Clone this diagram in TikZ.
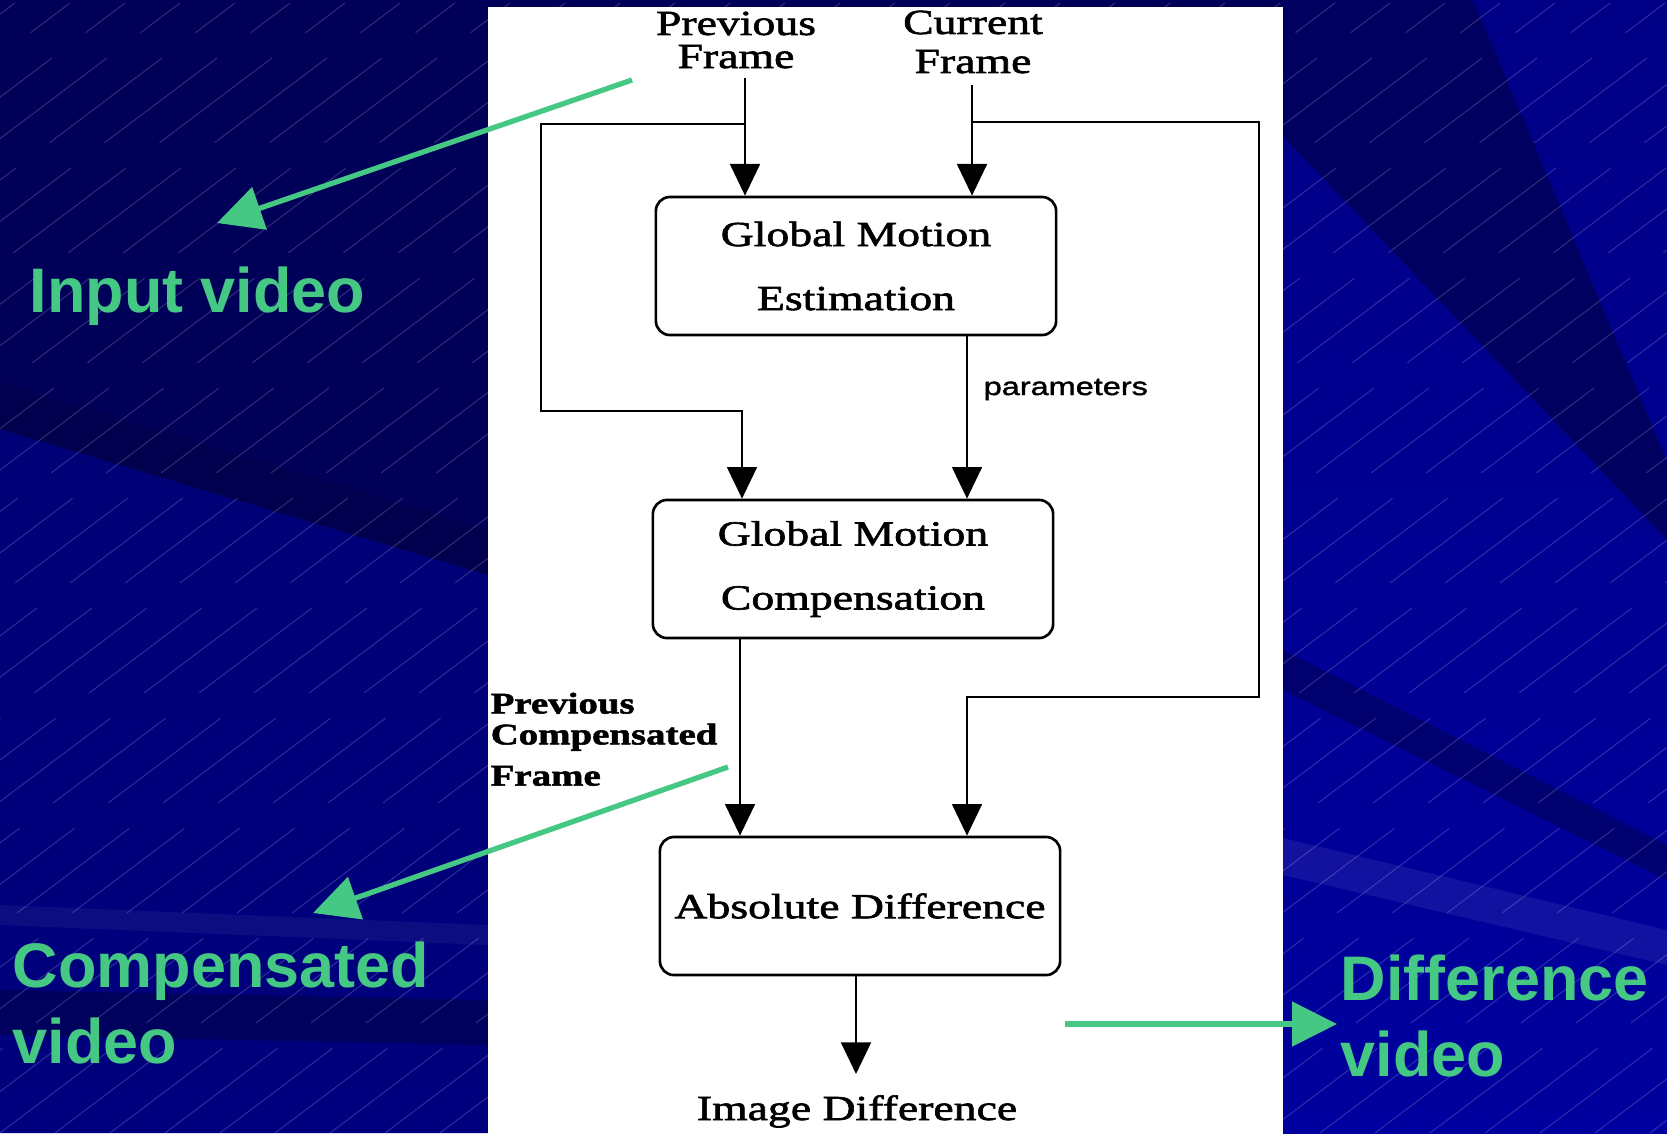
\documentclass[tikz,border=0pt]{standalone}
\usepackage{fontspec}
\setmainfont{Liberation Serif}
\newfontfamily\framefont[FakeStretch=1.3, FakeBold=1.8]{Liberation Serif}
\newfontfamily\paramfont[FakeStretch=1.3, FakeBold=1.5]{Liberation Sans}
\newfontfamily\notefont{Liberation Sans}
\usetikzlibrary{arrows.meta}
\definecolor{slidedark}{HTML}{000058}
\definecolor{slidemid}{HTML}{00007E}
\definecolor{slideblue}{HTML}{00009E}
\definecolor{notegreen}{HTML}{44C884}

\begin{document}
\begin{tikzpicture}[
    x=0.01cm, y=-0.01cm,
    block/.style={draw, rounded corners=4pt, line width=0.75pt, minimum width=4cm, minimum height=1.38cm, inner sep=0pt, align=center, font=\framefont\fontsize{10}{18.2}\selectfont},
    frame text/.style={inner sep=0pt, align=center, font=\framefont\fontsize{10}{9.4}\selectfont},
    side text/.style={inner sep=0pt, align=left, font=\framefont\bfseries\fontsize{8.5}{9.7}\selectfont},
    param text/.style={inner sep=0pt, font=\paramfont\fontsize{7.1}{8}\selectfont},
    flow/.style={line width=0.6pt, -{Triangle[length=9pt, width=8.5pt]}},
    note/.style={text=notegreen, inner sep=0pt, align=left, font=\notefont\bfseries\fontsize{17.9}{21.5}\selectfont},
    pointer/.style={draw=notegreen, line width=1.5pt, -{Triangle[length=12.8pt, width=12.5pt]}}
    ]
    % slide background
    \fill[slidedark] (0,0) rectangle (1667,1133);
    \shade[top color=slidemid!80!slidedark, bottom color=slidemid] (0,429) -- (488,575) -- (488,1133) -- (0,1133) -- cycle;
    \fill[slidedark!90!black] (0,383) -- (0,429) -- (488,575) -- (488,530) -- cycle;
    \fill[white, opacity=0.05] (0,905) -- (0,925) -- (488,945) -- (488,925) -- cycle;
    \fill[black, opacity=0.25] (0,990) -- (0,1035) -- (488,1045) -- (488,1000) -- cycle;
    \shade[top color=slideblue!85!black, bottom color=slideblue] (1283,0) rectangle (1667,1133);
    \fill[slidedark!95!blue] (1283,0) -- (1473,0) -- (1667,461) -- (1667,540) -- (1283,136) -- cycle;
    \fill[black, opacity=0.25] (1283,650) -- (1283,690) -- (1667,880) -- (1667,845) -- cycle;
    \fill[white, opacity=0.07] (1283,838) -- (1283,875) -- (1667,965) -- (1667,930) -- cycle;
    \begin{scope}
      \clip (0,0) rectangle (1667,1133);
      \foreach \i in {-28,...,31}
        \draw[white, opacity=0.2, line width=0.25pt, dash pattern=on 40pt off 12pt] (\i*55,1133) -- ++(1500,-1130);
    \end{scope}
    \fill[white] (488,7) rectangle (1283,1133);

    % blocks
    \node[block] (gme) at (856,266) {Global Motion\\Estimation};
    \node[block] (gmc) at (853,569) {Global Motion\\Compensation};
    \node[block] (diff) at (860,906) {Absolute Difference};

    % texts
    \node[frame text] (prev) at (736,40) {Previous\\Frame};
    \node[frame text] (cur) at (973,42) {Current\\[1.7pt]Frame};
    \node[frame text, anchor=base] (img) at (857,1120) {Image Difference};
    \node[param text, anchor=base west] (par) at (983,395) {parameters};
    \node[side text, anchor=north west] (pcf) at (490,692) {Previous\\[-0.9pt]Compensated\\[2pt]Frame};

    % connectors
    \coordinate (ptop) at (745,78);
    \coordinate (ctop) at (972,85);
    \coordinate (pfork) at (745,124);
    \coordinate (cfork) at (972,122);
    \coordinate (lbend) at (541,411);
    \coordinate (lcol) at (742,411);
    \coordinate (rbend) at (1259,697);
    \coordinate (rcol) at (967,697);
    \coordinate (gout) at (740,0);
    \coordinate (dout) at (856,1074);
    \draw[flow] (ptop) -- (ptop |- gme.north);
    \draw[flow] (ctop) -- (ctop |- gme.north);
    \draw[flow] (pfork) -| (lbend) -- (lcol) -- (lcol |- gmc.north);
    \draw[flow] (rcol |- gme.south) -- (rcol |- gmc.north);
    \draw[flow] (cfork) -| (rbend) -- (rcol) -- (rcol |- diff.north);
    \draw[flow] (gout |- gmc.south) -- (gout |- diff.north);
    \draw[flow] (dout |- diff.south) -- (dout);

    % green notes
    \node[note, anchor=base west] (inp) at (29,312) {Input video};
    \node[note, anchor=base west] (cvid) at (12,1063) {Compensated\\video};
    \node[note, anchor=base west] (dvid) at (1340,1076) {Difference\\video};
    \coordinate (g1a) at (632,80);
    \coordinate (g1b) at (217,223);
    \coordinate (g2a) at (728,767);
    \coordinate (g2b) at (313,913);
    \coordinate (g3a) at (1065,1024);
    \coordinate (g3b) at (1337,1024);
    \draw[pointer] (g1a) -- (g1b);
    \draw[pointer] (g2a) -- (g2b);
    \draw[pointer] (g3a) -- (g3b);
\end{tikzpicture}
\end{document}
